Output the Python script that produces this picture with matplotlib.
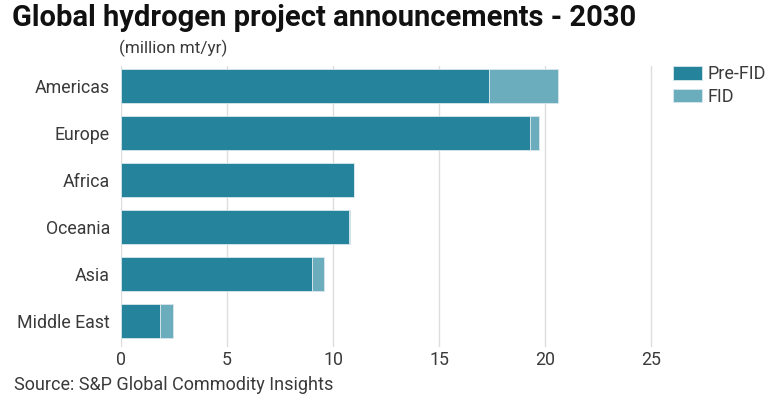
import matplotlib
matplotlib.use("Agg")
import matplotlib.pyplot as plt

# data (million mt/yr)
regions = ["Americas", "Europe", "Africa", "Oceania", "Asia", "Middle East"]
pre_fid = [17.33, 19.26, 11.0, 10.75, 9.0, 1.84]
fid = [3.29, 0.43, 0.0, 0.06, 0.57, 0.59]
ticks = [0, 5, 10, 15, 20, 25]

c_pre = "#25839b"
c_fid = "#6badbd"
txt = "#3a3a3a"

plt.rcParams['font.family'] = ['Roboto', 'DejaVu Sans']

fig = plt.figure(figsize=(7.81, 4.16), dpi=100)
ax = fig.add_axes([121 / 781, 1 - 347 / 416, (662 - 121) / 781, (347 - 66) / 416])

y = list(range(len(regions)))
ax.barh(y, pre_fid, height=0.73, color=c_pre, edgecolor="#d8e8ec", linewidth=0.6,
        label="Pre-FID", zorder=3)
ax.barh(y, fid, left=pre_fid, height=0.73, color=c_fid, edgecolor="#d8e8ec",
        linewidth=0.6, label="FID", zorder=3)

ax.set_xlim(0, 25.5)
ax.set_ylim(5.55, -0.43)
ax.set_yticks(y)
ax.set_yticklabels(regions, fontsize=12.8, color=txt)
ax.set_xticks(ticks)
ax.set_xticklabels([str(t) for t in ticks], fontsize=12.8, color=txt)
ax.tick_params(length=0)
ax.tick_params(axis="y", pad=8)
ax.tick_params(axis="x", pad=3)
ax.grid(axis="x", color="#dddddd", linewidth=1, zorder=0)
for s in ax.spines.values():
    s.set_visible(False)

fig.text(12 / 781, 1 - 18 / 416, "Global hydrogen project announcements - 2030",
         fontsize=21, fontweight="bold", va="center", ha="left", color="#111111")
fig.text(119 / 781, 1 - 48 / 416, "(million mt/yr)", fontsize=12.3, va="center",
         ha="left", color=txt)
fig.text(14 / 781, 1 - 385 / 416, "Source: S&P Global Commodity Insights", fontsize=13,
         va="center", ha="left", color=txt)

fig.legend(loc="upper left", bbox_to_anchor=(666 / 781, 1 - 58 / 416), frameon=False,
           prop={"size": 13}, handlelength=1.6, handleheight=0.75,
           handletextpad=0.3, labelspacing=0.25, borderaxespad=0)
for t in fig.legends[0].get_texts():
    t.set_color(txt)

fig.savefig("out.png", dpi=100)
